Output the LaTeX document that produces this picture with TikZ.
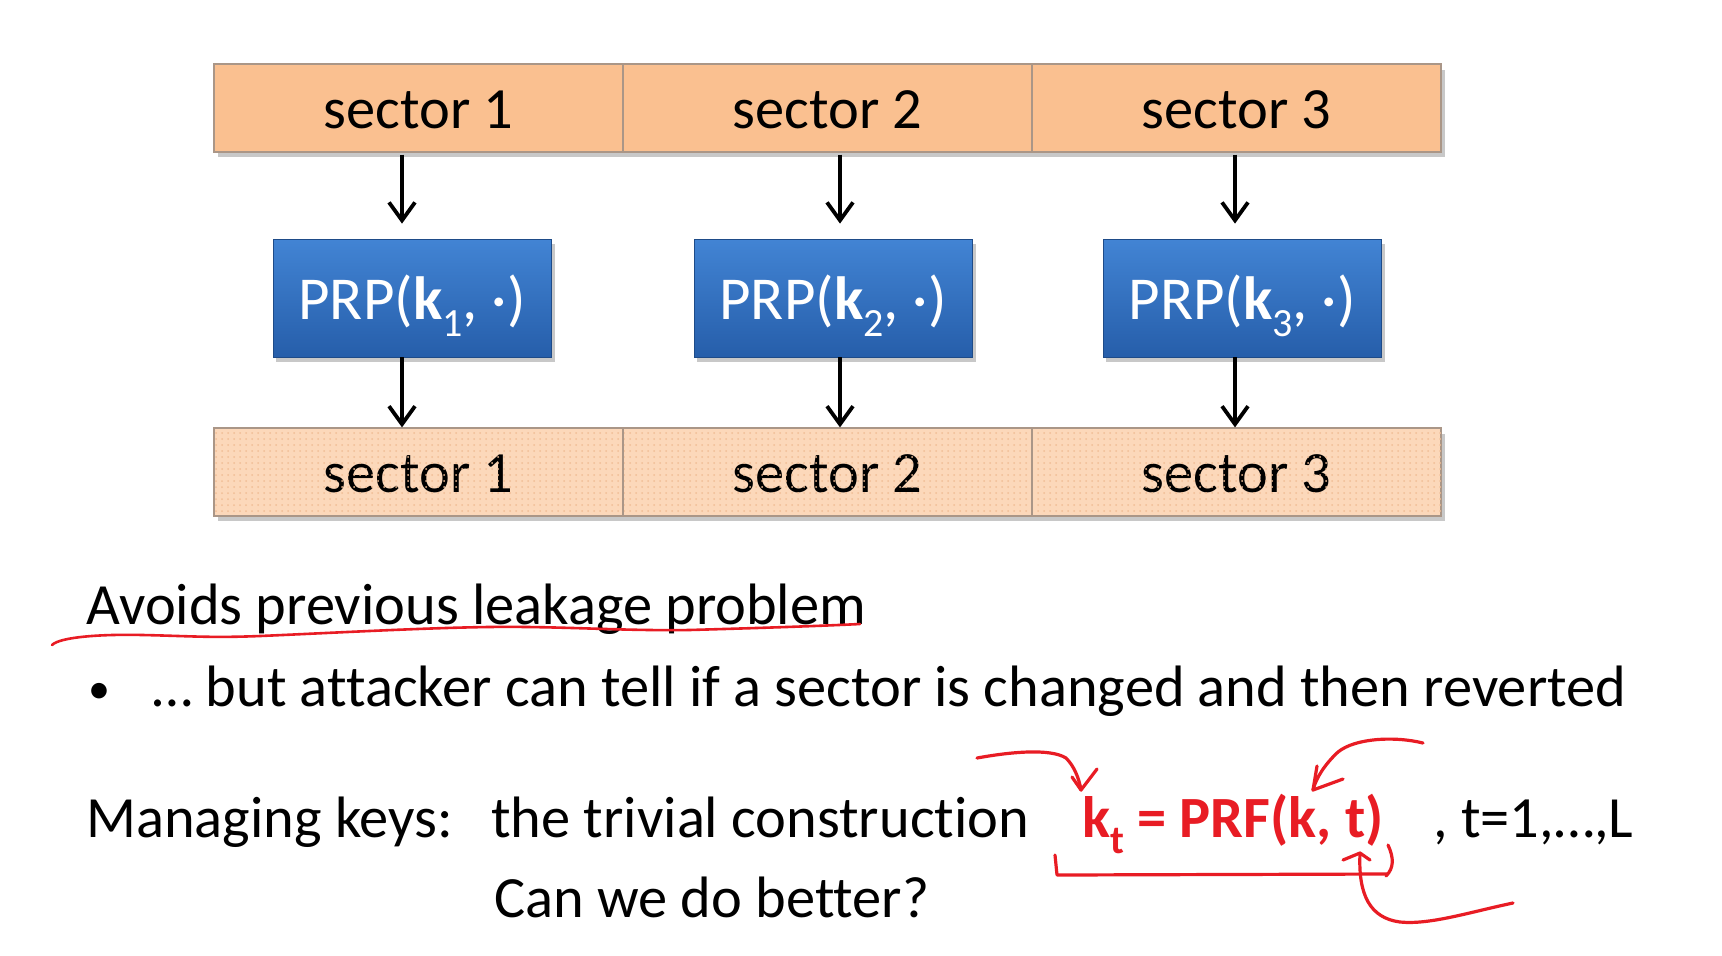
\documentclass[tikz,border=0pt]{standalone}
\usepackage{fontspec}
\setmainfont{Carlito}[Ligatures={NoCommon}]
\usetikzlibrary{arrows.meta,patterns,calc}
\definecolor{peach}{RGB}{250,192,144}
\definecolor{peachlt}{RGB}{252,216,186}
\definecolor{peachdot}{RGB}{240,190,150}
\definecolor{cellline}{RGB}{170,150,135}
\definecolor{bluetop}{RGB}{66,132,212}
\definecolor{bluebot}{RGB}{38,94,170}
\definecolor{redink}{RGB}{232,28,36}
\definecolor{shadowgray}{RGB}{200,200,200}
\newcommand\sbs[1]{\raisebox{-0.28em}{\fontsize{20}{20}\selectfont #1}}
\tikzset{
  topcell/.style={draw=cellline, line width=0.6pt, fill=peach, minimum width=204.5pt, minimum height=44pt, inner sep=0pt, font=\fontsize{29.2}{34}\selectfont, text height=20pt, text depth=0pt},
  botcell/.style={topcell, fill=peachlt},
  prpbox/.style={draw=bluebot!80!black, line width=0.4pt, top color=bluetop, bottom color=bluebot, minimum width=139pt, minimum height=59pt, inner sep=0pt, text=white, font=\fontsize{30.5}{34}\selectfont, text height=21pt, text depth=0pt},
  arr/.style={line width=1.9pt, -{Straight Barb[length=9pt,width=13pt,line width=1.9pt]}},
  txt/.style={anchor=base west, inner sep=0pt, font=\fontsize{29.2}{34}\selectfont},
  ink/.style={draw=redink, line width=1.6pt, line cap=round, line join=round},
}
\begin{document}
\begin{tikzpicture}[x=0.5pt,y=-0.5pt]
\useasboundingbox[fill=white] (0,0) rectangle (1722,955);

% shadows
\fill[shadowgray] (218,70) rectangle (1445,157);
\fill[shadowgray] (218,434) rectangle (1445,521);
\foreach \cx in {412,833,1242}{\fill[shadowgray] (\cx-136,244) rectangle (\cx+143,362);}

% top sectors
\node[topcell] (t1) at (418.5,108) {sector 1};
\node[topcell] (t2) at (827.5,108) {sector 2};
\node[topcell] (t3) at (1236.5,108) {sector 3};

% PRP boxes
\node[prpbox] (p1) at (412,298) {PRP(\textbf{k}\sbs{1}, ·)};
\node[prpbox] (p2) at (833,298) {PRP(\textbf{k}\sbs{2}, ·)};
\node[prpbox] (p3) at (1242,298) {PRP(\textbf{k}\sbs{3}, ·)};

% bottom sectors
\node[botcell] (b1) at (418.5,472) {sector 1};
\node[botcell] (b2) at (827.5,472) {sector 2};
\node[botcell] (b3) at (1236.5,472) {sector 3};
\foreach \n in {b1,b2,b3}{\path[pattern=dots, pattern color=peachdot] (\n.north west) rectangle (\n.south east);}
\foreach \n in {b1,b2,b3}{\draw[cellline, line width=0.6pt] (\n.north west) rectangle (\n.south east);}

% arrows
\coordinate (a1) at (402,0);
\coordinate (a2) at (840,0);
\coordinate (a3) at (1235,0);
\draw[arr] ($(a1 |- t1.south)+(0,2)$) -- ($(a1 |- p1.north)+(0,-15)$);
\draw[arr] ($(a2 |- t2.south)+(0,2)$) -- ($(a2 |- p2.north)+(0,-15)$);
\draw[arr] ($(a3 |- t3.south)+(0,2)$) -- ($(a3 |- p3.north)+(0,-15)$);
\draw[arr] (a1 |- p1.south) -- (a1 |- b1.north);
\draw[arr] (a2 |- p2.south) -- (a2 |- b2.north);
\draw[arr] (a3 |- p3.south) -- (a3 |- b3.north);

% texts
\node[txt] (avoid) at (86,624) {Avoids previous leakage problem};
\node[txt, font=\fontsize{22}{26}\selectfont] (bul) at (88,703) {•};
\node[txt] (but) at (152,706) {… but attacker can tell if a sector is changed and then reverted};
\node[txt] (mk) at (86,837) {Managing keys:};
\node[txt] (triv) at (491,837) {the trivial construction};
\node[txt, text=redink] (kt) at (1082,837) {\textbf{k\sbs{t} = PRF(k, t)}};
\node[txt] (range) at (1433,837) {, t=1,…,L};
\node[txt] (better) at (494,917) {Can we do better?};

% red ink
\draw[ink, line width=1.3pt] (52,645) .. controls (60,637) and (100,634) .. (143,635)
  .. controls (190,636) and (210,638) .. (260,636)
  .. controls (330,633) and (420,628) .. (488,627)
  .. controls (560,626) and (620,631) .. (689,630)
  .. controls (760,628) and (820,626) .. (860,624);
% arrow to k_t
\draw[ink] (977,758) .. controls (1010,752) and (1050,748) .. (1066,758) .. controls (1074,766) and (1079,778) .. (1081,790);
\draw[ink] (1072,777) -- (1081,790) -- (1097,769);
% arrow to k
\draw[ink] (1423,743) .. controls (1395,736) and (1355,738) .. (1338,752) .. controls (1325,764) and (1316,778) .. (1313,790);
\draw[ink] (1317,766) -- (1313,790) -- (1343,779);
% bracket
\draw[ink] (1055,855) -- (1057,875) -- (1387,874);
\draw[ink] (1388,845) .. controls (1394,858) and (1394,868) .. (1386,876);
% arrow from below to t
\draw[ink] (1513,903) .. controls (1470,912) and (1430,925) .. (1400,922) .. controls (1370,918) and (1358,895) .. (1360,853);
\draw[ink] (1343,860) -- (1360,853) -- (1370,860);
\end{tikzpicture}
\end{document}
